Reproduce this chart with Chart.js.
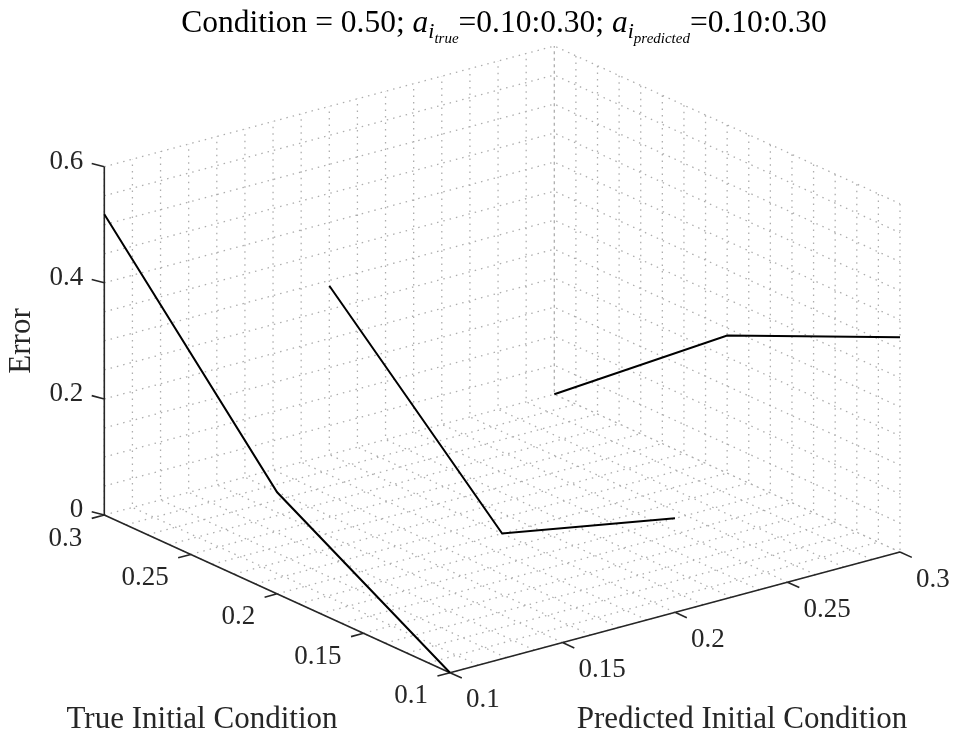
<!DOCTYPE html>
<html>
<head>
<meta charset="utf-8">
<script src="https://cdn.jsdelivr.net/npm/chart.js@4.4.0/dist/chart.umd.min.js"></script>
<style>
  html, body { margin: 0; padding: 0; background: #fff; }
  #wrap { width: 957px; height: 736px; }
</style>
</head>
<body>
<div id="wrap"><canvas id="errorSurface"></canvas></div>
<script>
// one error trace per predicted initial condition, sampled at each true IC
const predictedIC = [0.1, 0.2, 0.3];
const trueIC = [0.1, 0.2, 0.3];
const errPred010 = [0, 0.175, 0.518];
const errPred020 = [0.162, 0, 0.291];
const errPred030 = [0.370, 0.237, 0];
const errorTraces = [errPred010, errPred020, errPred030];

const conditionValue = 0.5;
const icRange = [0.1, 0.3];
const errRange = [0, 0.6];
const icTicks = [0.1, 0.15, 0.2, 0.25, 0.3];
const icTickLabels = ['0.1', '0.15', '0.2', '0.25', '0.3'];
const errTicks = [0, 0.2, 0.4, 0.6];
const errTickLabels = ['0', '0.2', '0.4', '0.6'];
const icMinorStep = 0.0125;
const errMinorStep = 0.05;

const SERIF = '"Liberation Serif", "Times New Roman", serif';
const INK = '#262626';

// orthographic 3-D view, expressed in canvas units (x right, y down)
const view = {
  origin: [450, 672.7],
  ex: [450, -120.7],     // whole predicted range
  ey: [-345.7, -157.7],  // whole true range
  ez: [0, -348.3]        // whole error range
};

function project(p, t, e) {
  const u = (p - icRange[0]) / (icRange[1] - icRange[0]);
  const v = (t - icRange[0]) / (icRange[1] - icRange[0]);
  const w = (e - errRange[0]) / (errRange[1] - errRange[0]);
  return {
    x: view.origin[0] + u * view.ex[0] + v * view.ey[0] + w * view.ez[0],
    y: view.origin[1] + u * view.ex[1] + v * view.ey[1] + w * view.ez[1]
  };
}

function unit(v, s) {
  const n = Math.hypot(v[0], v[1]);
  return [v[0] / n * s, v[1] / n * s];
}

function steps(range, step) {
  const out = [];
  const n = Math.round((range[1] - range[0]) / step);
  for (let k = 0; k <= n; k++) out.push(range[0] + k * step);
  return out;
}

// several polylines in one dataset, split by NaN gaps
function joinPaths(paths) {
  const out = [];
  paths.forEach(path => {
    path.forEach(pt => out.push(pt));
    out.push({ x: NaN, y: NaN });
  });
  return out;
}

const [pLo, pHi] = icRange;
const [tLo, tHi] = icRange;
const [eLo, eHi] = errRange;

// dotted grid on the floor and the two back walls
const gridPaths = [];
steps(errRange, errMinorStep).forEach(e =>
  gridPaths.push([project(pLo, tHi, e), project(pHi, tHi, e), project(pHi, tLo, e)]));
steps(icRange, icMinorStep).forEach(p =>
  gridPaths.push([project(p, tLo, eLo), project(p, tHi, eLo), project(p, tHi, eHi)]));
steps(icRange, icMinorStep).forEach(t =>
  gridPaths.push([project(pLo, t, eLo), project(pHi, t, eLo), project(pHi, t, eHi)]));

// axis lines and tick marks
const tickLen = 13;
const pTickDir = unit([-view.ey[0], -view.ey[1]], tickLen);
const tTickDir = unit([-view.ex[0], -view.ex[1]], tickLen);
const eTickDir = unit([-0.968, -0.25], tickLen);

const axisPaths = [
  [project(pLo, tLo, eLo), project(pHi, tLo, eLo)],
  [project(pLo, tLo, eLo), project(pLo, tHi, eLo)],
  [project(pLo, tHi, eLo), project(pLo, tHi, eHi)]
];
function tickPath(pt, dir) {
  return [pt, { x: pt.x + dir[0], y: pt.y + dir[1] }];
}
icTicks.forEach(p => axisPaths.push(tickPath(project(p, tLo, eLo), pTickDir)));
icTicks.forEach(t => axisPaths.push(tickPath(project(pLo, t, eLo), tTickDir)));
errTicks.forEach(e => axisPaths.push(tickPath(project(pLo, tHi, e), eTickDir)));

const traceData = errorTraces.map((errs, k) =>
  trueIC.map((t, i) => project(predictedIC[k], t, errs[i])));

const datasets = [
  {
    label: 'grid', data: joinPaths(gridPaths), showLine: true, spanGaps: false,
    borderColor: '#adadad', borderWidth: 1.3, borderDash: [1.5, 5], order: 3
  },
  {
    label: 'axes', data: joinPaths(axisPaths), showLine: true, spanGaps: false,
    borderColor: INK, borderWidth: 1.6, order: 2
  }
].concat(traceData.map((d, k) => ({
  label: 'predicted ' + predictedIC[k], data: d, showLine: true,
  borderColor: '#000', borderWidth: 2, order: 1
})));

function fmt(v) { return v.toFixed(2); }

const labelPlugin = {
  id: 'axisText',
  afterDatasetsDraw(chart) {
    const { ctx, scales } = chart;
    const px = pt => ({ x: scales.x.getPixelForValue(pt.x), y: scales.y.getPixelForValue(pt.y) });
    ctx.save();
    ctx.fillStyle = INK;
    ctx.font = '27px ' + SERIF;
    ctx.textBaseline = 'middle';

    ctx.textAlign = 'left';
    icTicks.forEach((p, i) => {
      const q = px(project(p, tLo, eLo));
      ctx.fillText(icTickLabels[i], q.x + 16, q.y + 27.5);
    });
    ctx.textAlign = 'right';
    icTicks.forEach((t, i) => {
      const q = px(project(pLo, t, eLo));
      ctx.fillText(icTickLabels[i], q.x - 22, q.y + 23.5);
    });
    errTicks.forEach((e, i) => {
      const q = px(project(pLo, tHi, e));
      ctx.fillText(errTickLabels[i], q.x - 21, q.y - 5);
    });

    ctx.font = '31px ' + SERIF;
    ctx.textAlign = 'center';
    ctx.fillText('True Initial Condition', 202, 720);
    ctx.fillText('Predicted Initial Condition', 742, 720);
    ctx.save();
    ctx.translate(22, 341);
    ctx.rotate(-Math.PI / 2);
    ctx.fillText('Error', 0, 0);
    ctx.restore();

    // title with nested subscripts
    const span = fmt(icRange[0]) + ':' + fmt(icRange[1]);
    const runs = [
      { s: 'Condition = ' + fmt(conditionValue) + '; ', it: false, size: 31.5, dy: 0 },
      { s: 'a', it: true, size: 31.5, dy: 0 },
      { s: 'i', it: true, size: 22, dy: 6 },
      { s: 'true', it: true, size: 15, dy: 11 },
      { s: '=' + span + '; ', it: false, size: 31.5, dy: 0 },
      { s: 'a', it: true, size: 31.5, dy: 0 },
      { s: 'i', it: true, size: 22, dy: 6 },
      { s: 'predicted', it: true, size: 15, dy: 11 },
      { s: '=' + span, it: false, size: 31.5, dy: 0 }
    ];
    const fontOf = r => (r.it ? 'italic ' : '') + r.size + 'px ' + SERIF;
    let total = 0;
    runs.forEach(r => { ctx.font = fontOf(r); r.w = ctx.measureText(r.s).width; total += r.w; });
    let x = 504 - total / 2;
    ctx.fillStyle = '#000';
    ctx.textAlign = 'left';
    ctx.textBaseline = 'alphabetic';
    runs.forEach(r => {
      ctx.font = fontOf(r);
      ctx.fillText(r.s, x, 32 + r.dy);
      x += r.w;
    });
    ctx.restore();
  }
};

new Chart(document.getElementById('errorSurface'), {
  type: 'scatter',
  data: { datasets },
  options: {
    responsive: true,
    maintainAspectRatio: false,
    animation: false,
    layout: { padding: 0 },
    elements: { point: { radius: 0, hoverRadius: 0 }, line: { tension: 0 } },
    scales: {
      x: { type: 'linear', min: 0, max: 957, display: false },
      y: { type: 'linear', min: 0, max: 736, reverse: true, display: false }
    },
    plugins: {
      legend: { display: false },
      tooltip: { enabled: false },
      title: { display: false }
    }
  },
  plugins: [labelPlugin]
});
</script>
</body>
</html>
